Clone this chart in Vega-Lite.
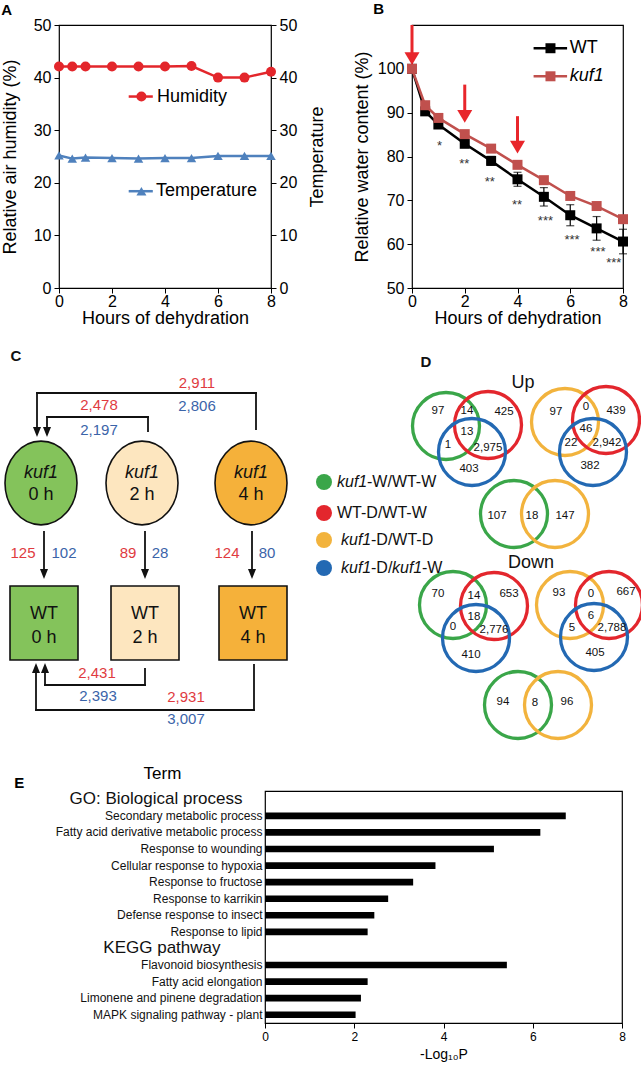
{
  "$schema": "https://vega.github.io/schema/vega-lite/v6.json",
  "padding": {"left": 0, "top": 0, "right": 0, "bottom": 0},
  "background": "white",
  "config": {
    "font": "Liberation Sans",
    "axis": {"grid": false, "domainColor": "#000", "tickColor": "#000", "labelColor": "#000", "titleColor": "#000", "titleFontWeight": "normal", "labelFont": "Liberation Sans", "titleFont": "Liberation Sans"},
    "text": {"font": "Liberation Sans"},
    "title": {"font": "Liberation Sans", "color": "#000"}
  },
  "datasets": {
    "humid": [{"h":0,"v":42.1},{"h":0.5,"v":42.1},{"h":1,"v":42.1},{"h":2,"v":42.1},{"h":3,"v":42.1},{"h":4,"v":42.1},{"h":5,"v":42.2},{"h":6,"v":40.0},{"h":7,"v":40.0},{"h":8,"v":41.1}],
    "temp": [{"h":0,"v":25.2},{"h":0.5,"v":24.6},{"h":1,"v":24.8},{"h":2,"v":24.7},{"h":3,"v":24.6},{"h":4,"v":24.7},{"h":5,"v":24.7},{"h":6,"v":25.1},{"h":7,"v":25.1},{"h":8,"v":25.1}],
    "legA": [{"kind":"line","h":2.63,"h2":3.54,"v":36.4,"s":"Humidity"},{"kind":"pt","h":3.11,"v":36.4,"s":"Humidity"},{"kind":"txt","h":3.7,"v":36.4,"s":"Humidity"},{"kind":"line","h":2.63,"h2":3.54,"v":18.4,"s":"Temperature"},{"kind":"pt","h":3.11,"v":18.4,"s":"Temperature"},{"kind":"txt","h":3.66,"v":18.4,"s":"Temperature"}],
    "wt": [{"h":0,"v":100,"e":0},{"h":0.5,"v":90.3,"e":0.4},{"h":1,"v":87.3,"e":0.5},{"h":2,"v":82.9,"e":0.7},{"h":3,"v":79.0,"e":1.0},{"h":4,"v":74.8,"e":1.6},{"h":5,"v":70.8,"e":2.1},{"h":6,"v":66.6,"e":2.4},{"h":7,"v":63.6,"e":2.7},{"h":8,"v":60.6,"e":2.8}],
    "kuf": [{"h":0,"v":100},{"h":0.5,"v":91.7},{"h":1,"v":88.8},{"h":2,"v":85.1},{"h":3,"v":81.8},{"h":4,"v":78.1},{"h":5,"v":74.6},{"h":6,"v":71.0},{"h":7,"v":68.7},{"h":8,"v":65.7}],
    "sig": [{"h":1.04,"v":83.1,"s":"*"},{"h":1.98,"v":79.0,"s":"**"},{"h":2.95,"v":74.8,"s":"**"},{"h":3.98,"v":69.7,"s":"**"},{"h":5.06,"v":65.9,"s":"***"},{"h":6.07,"v":61.6,"s":"***"},{"h":7.05,"v":58.9,"s":"***"},{"h":7.65,"v":56.3,"s":"***"}],
    "arrows": [{"h":0,"v":110,"v2":102.5},{"h":2,"v":96.4,"v2":89.5},{"h":4,"v":89.2,"v2":82.5}],
    "tips": [{"h":0,"v":100.9},{"h":2,"v":87.7},{"h":4,"v":80.7}],
    "legB": [{"kind":"line","h":4.61,"h2":5.88,"v":104.7,"s":"WT"},{"kind":"pt","h":5.25,"v":104.7,"s":"WT"},{"kind":"txt","h":5.98,"v":104.7,"s":"WT"},{"kind":"line","h":4.61,"h2":5.88,"v":98.3,"s":"kuf1"},{"kind":"pt","h":5.25,"v":98.3,"s":"kuf1"},{"kind":"txt","h":5.98,"v":98.3,"s":"kuf1"}],
    "segs": [
      {"x":252,"y":429,"x2":252,"y2":393},{"x":252,"y":393,"x2":33,"y2":393},{"x":33,"y":393,"x2":33,"y2":430},
      {"x":144,"y":431,"x2":144,"y2":417},{"x":144,"y":417,"x2":43,"y2":417},{"x":43,"y":417,"x2":43,"y2":430},
      {"x":40,"y":532,"x2":40,"y2":572},{"x":141,"y":532,"x2":141,"y2":572},{"x":248,"y":532,"x2":248,"y2":572},
      {"x":141,"y":669,"x2":141,"y2":685},{"x":141,"y":685,"x2":41,"y2":685},{"x":41,"y":685,"x2":41,"y2":670},
      {"x":250,"y":665,"x2":250,"y2":710},{"x":250,"y":710,"x2":32,"y2":710},{"x":32,"y":710,"x2":32,"y2":670}
    ],
    "heads": [{"x":33,"y":437,"dir":"down"},{"x":43,"y":437,"dir":"down"},{"x":40,"y":579,"dir":"down"},{"x":141,"y":579,"dir":"down"},{"x":248,"y":579,"dir":"down"},{"x":41,"y":663,"dir":"up"},{"x":32,"y":663,"dir":"up"}],
    "ellipses": [{"x":37,"y":483,"cat":"0 h"},{"x":138,"y":483,"cat":"2 h"},{"x":247,"y":483,"cat":"4 h"}],
    "boxes": [{"x":6,"y":586,"x2":74,"y2":660,"cat":"0 h"},{"x":107,"y":586,"x2":175,"y2":660,"cat":"2 h"},{"x":215,"y":586,"x2":283,"y2":660,"cat":"4 h"}],
    "venn": [
      {"x":442,"y":426,"cat":"kuf1-W/WT-W"},{"x":484,"y":425,"cat":"WT-D/WT-W"},{"x":468,"y":452,"cat":"kuf1-D/kuf1-W"},
      {"x":561,"y":422,"cat":"kuf1-D/WT-D"},{"x":602,"y":420,"cat":"WT-D/WT-W"},{"x":589,"y":452,"cat":"kuf1-D/kuf1-W"},
      {"x":510,"y":514,"cat":"kuf1-W/WT-W"},{"x":551,"y":514,"cat":"kuf1-D/WT-D"},
      {"x":449,"y":605,"cat":"kuf1-W/WT-W"},{"x":490,"y":606,"cat":"WT-D/WT-W"},{"x":472,"y":638,"cat":"kuf1-D/kuf1-W"},
      {"x":566,"y":605,"cat":"kuf1-D/WT-D"},{"x":605,"y":605,"cat":"WT-D/WT-W"},{"x":590,"y":637,"cat":"kuf1-D/kuf1-W"},
      {"x":514,"y":705,"cat":"kuf1-W/WT-W"},{"x":554,"y":705,"cat":"kuf1-D/WT-D"}
    ],
    "dots": [{"x":320,"y":482,"cat":"kuf1-W/WT-W"},{"x":320,"y":513,"cat":"WT-D/WT-W"},{"x":320,"y":540,"cat":"kuf1-D/WT-D"},{"x":320,"y":568,"cat":"kuf1-D/kuf1-W"}],
    "labels": [
      {"role":"letter","t":"C","x":12,"y":356,"cat":"plain"},
      {"role":"letter","t":"D","x":422,"y":362,"cat":"plain"},
      {"role":"cnum","t":"2,911","x":193,"y":383,"cat":"up"},
      {"role":"cnum","t":"2,806","x":193,"y":406,"cat":"down"},
      {"role":"cnum","t":"2,478","x":95,"y":405,"cat":"up"},
      {"role":"cnum","t":"2,197","x":95,"y":430,"cat":"down"},
      {"role":"cnum","t":"125","x":19,"y":553,"cat":"up"},
      {"role":"cnum","t":"102","x":60,"y":553,"cat":"down"},
      {"role":"cnum","t":"89","x":124,"y":553,"cat":"up"},
      {"role":"cnum","t":"28","x":156,"y":553,"cat":"down"},
      {"role":"cnum","t":"124","x":223,"y":553,"cat":"up"},
      {"role":"cnum","t":"80","x":263,"y":553,"cat":"down"},
      {"role":"cnum","t":"2,431","x":93,"y":673,"cat":"up"},
      {"role":"cnum","t":"2,393","x":94,"y":696,"cat":"down"},
      {"role":"cnum","t":"2,931","x":182,"y":697,"cat":"up"},
      {"role":"cnum","t":"3,007","x":182,"y":719,"cat":"down"},
      {"role":"nodeit","t":"kuf1","x":37,"y":473,"cat":"plain"},
      {"role":"nodeit","t":"kuf1","x":138,"y":473,"cat":"plain"},
      {"role":"nodeit","t":"kuf1","x":247,"y":473,"cat":"plain"},
      {"role":"node","t":"0 h","x":37,"y":495,"cat":"plain"},
      {"role":"node","t":"2 h","x":138,"y":495,"cat":"plain"},
      {"role":"node","t":"4 h","x":247,"y":495,"cat":"plain"},
      {"role":"node","t":"WT","x":40,"y":614,"cat":"plain"},
      {"role":"node","t":"WT","x":141,"y":614,"cat":"plain"},
      {"role":"node","t":"WT","x":249,"y":614,"cat":"plain"},
      {"role":"node","t":"0 h","x":40,"y":638,"cat":"plain"},
      {"role":"node","t":"2 h","x":141,"y":638,"cat":"plain"},
      {"role":"node","t":"4 h","x":249,"y":638,"cat":"plain"},
      {"role":"vhead","t":"Up","x":519,"y":383,"cat":"plain"},
      {"role":"vhead","t":"Down","x":527,"y":563,"cat":"plain"},
      {"role":"vnum","t":"97","x":434,"y":411,"cat":"plain"},
      {"role":"vnum","t":"14","x":463,"y":411,"cat":"plain"},
      {"role":"vnum","t":"425","x":500,"y":412,"cat":"plain"},
      {"role":"vnum","t":"13","x":463,"y":432,"cat":"plain"},
      {"role":"vnum","t":"1","x":444,"y":445,"cat":"plain"},
      {"role":"vnum","t":"2,975","x":484,"y":448,"cat":"plain"},
      {"role":"vnum","t":"403","x":465,"y":469,"cat":"plain"},
      {"role":"vnum","t":"97","x":552,"y":412,"cat":"plain"},
      {"role":"vnum","t":"0","x":582,"y":407,"cat":"plain"},
      {"role":"vnum","t":"439","x":612,"y":411,"cat":"plain"},
      {"role":"vnum","t":"46","x":582,"y":429,"cat":"plain"},
      {"role":"vnum","t":"22","x":567,"y":443,"cat":"plain"},
      {"role":"vnum","t":"2,942","x":603,"y":443,"cat":"plain"},
      {"role":"vnum","t":"382","x":586,"y":466,"cat":"plain"},
      {"role":"vnum","t":"107","x":493,"y":516,"cat":"plain"},
      {"role":"vnum","t":"18","x":528,"y":516,"cat":"plain"},
      {"role":"vnum","t":"147","x":561,"y":516,"cat":"plain"},
      {"role":"vnum","t":"70","x":434,"y":594,"cat":"plain"},
      {"role":"vnum","t":"14","x":470,"y":596,"cat":"plain"},
      {"role":"vnum","t":"653","x":505,"y":594,"cat":"plain"},
      {"role":"vnum","t":"18","x":470,"y":617,"cat":"plain"},
      {"role":"vnum","t":"0","x":449,"y":627,"cat":"plain"},
      {"role":"vnum","t":"2,776","x":490,"y":630,"cat":"plain"},
      {"role":"vnum","t":"410","x":467,"y":655,"cat":"plain"},
      {"role":"vnum","t":"93","x":555,"y":593,"cat":"plain"},
      {"role":"vnum","t":"0","x":587,"y":594,"cat":"plain"},
      {"role":"vnum","t":"667","x":622,"y":592,"cat":"plain"},
      {"role":"vnum","t":"6","x":587,"y":616,"cat":"plain"},
      {"role":"vnum","t":"5","x":568,"y":628,"cat":"plain"},
      {"role":"vnum","t":"2,788","x":608,"y":628,"cat":"plain"},
      {"role":"vnum","t":"405","x":591,"y":653,"cat":"plain"},
      {"role":"vnum","t":"94","x":499,"y":702,"cat":"plain"},
      {"role":"vnum","t":"8","x":531,"y":703,"cat":"plain"},
      {"role":"vnum","t":"96","x":563,"y":702,"cat":"plain"},
      {"role":"legit","t":"kuf1","x":333,"y":482,"cat":"plain"},
      {"role":"leg","t":"-W/WT-W","x":363,"y":482,"cat":"plain"},
      {"role":"leg","t":"WT-D/WT-W","x":333,"y":513,"cat":"plain"},
      {"role":"legit","t":"kuf1","x":337,"y":540,"cat":"plain"},
      {"role":"leg","t":"-D/WT-D","x":367,"y":540,"cat":"plain"},
      {"role":"legit","t":"kuf1","x":337,"y":568,"cat":"plain"},
      {"role":"leg","t":"-D/","x":367,"y":568,"cat":"plain"},
      {"role":"legit","t":"kuf1","x":388,"y":568,"cat":"plain"},
      {"role":"leg","t":"-W","x":418,"y":568,"cat":"plain"}
    ],
    "go": [
      {"term":"Secondary metabolic process","p":6.74},
      {"term":"Fatty acid derivative metabolic process","p":6.17},
      {"term":"Response to wounding","p":5.13},
      {"term":"Cellular response to hypoxia","p":3.82},
      {"term":"Response to fructose","p":3.32},
      {"term":"Response to karrikin","p":2.76},
      {"term":"Defense response to insect","p":2.45},
      {"term":"Response to lipid","p":2.30},
      {"term":"Flavonoid biosynthesis","p":5.42},
      {"term":"Fatty acid elongation","p":2.30},
      {"term":"Limonene and pinene degradation","p":2.15},
      {"term":"MAPK signaling pathway - plant","p":2.03}
    ],
    "letterE": [{"t":"E","p":-5.62,"term":"GO: Biological process"}]
  },
  "columns": 1,
  "spacing": 10,
  "resolve": {"scale": {"color": "independent", "shape": "independent"}},
  "concat": [
    {
      "spacing": 24,
      "resolve": {"scale": {"color": "independent", "shape": "independent"}},
      "hconcat": [
        {
          "width": 212, "height": 263,
          "title": {"text": "A", "anchor": "start", "frame": "bounds", "fontSize": 15, "fontWeight": "bold", "offset": -1},
          "view": {"stroke": "#000", "strokeWidth": 1.2},
          "encoding": {
            "x": {"field": "h", "type": "quantitative", "scale": {"domain": [0, 8], "nice": false}, "axis": {"values": [0,2,4,6,8], "title": "Hours of dehydration", "labelFontSize": 16, "titleFontSize": 18, "tickSize": 5, "labelPadding": 0, "titlePadding": 0, "domain": false, "labelFlush": false}}
          },
          "layer": [
            {
              "encoding": {"y": {"field": "v", "type": "quantitative", "scale": {"domain": [0, 50], "nice": false}, "axis": {"orient": "left", "values": [0,10,20,30,40,50], "title": "Relative air humidity (%)", "labelFontSize": 16, "titleFontSize": 18, "tickSize": 5, "labelPadding": 3, "titlePadding": 14, "domain": false}}},
              "layer": [
                {"data": {"name": "humid"}, "mark": {"type": "line", "color": "#e3262b", "strokeWidth": 2.5}},
                {"data": {"name": "humid"}, "mark": {"type": "point", "shape": "circle", "filled": true, "opacity": 1, "size": 100, "color": "#e3262b"}},
                {"data": {"name": "legA"}, "transform": [{"filter": "datum.kind == 'line'"}], "mark": {"type": "rule", "strokeWidth": 2.5}, "encoding": {"x2": {"field": "h2"}, "color": {"field": "s", "type": "nominal", "scale": {"domain": ["Humidity", "Temperature"], "range": ["#e3262b", "#4f81bd"]}, "legend": null}}},
                {"data": {"name": "legA"}, "transform": [{"filter": "datum.kind == 'pt'"}], "mark": {"type": "point", "filled": true, "opacity": 1, "size": 100}, "encoding": {"color": {"field": "s", "type": "nominal", "scale": {"domain": ["Humidity", "Temperature"], "range": ["#e3262b", "#4f81bd"]}, "legend": null}, "shape": {"field": "s", "type": "nominal", "scale": {"domain": ["Humidity", "Temperature"], "range": ["circle", "triangle-up"]}, "legend": null}}},
                {"data": {"name": "legA"}, "transform": [{"filter": "datum.kind == 'txt'"}], "mark": {"type": "text", "align": "left", "baseline": "middle", "fontSize": 18, "color": "#000"}, "encoding": {"text": {"field": "s"}}}
              ]
            },
            {
              "encoding": {"y": {"field": "v", "type": "quantitative", "scale": {"domain": [0, 50], "nice": false}, "axis": {"orient": "right", "values": [0,10,20,30,40,50], "title": "Temperature", "labelFontSize": 16, "titleFontSize": 18, "tickSize": 5, "labelPadding": 3, "titlePadding": 12, "titleAngle": 270, "titleBaseline": "top", "domain": false}}},
              "layer": [
                {"data": {"name": "temp"}, "mark": {"type": "line", "color": "#4f81bd", "strokeWidth": 2.5}},
                {"data": {"name": "temp"}, "mark": {"type": "point", "shape": "triangle-up", "filled": true, "opacity": 1, "size": 90, "color": "#4f81bd"}}
              ]
            }
          ],
          "resolve": {"scale": {"y": "independent"}}
        },
        {
          "width": 211, "height": 263,
          "title": {"text": "B", "anchor": "start", "frame": "bounds", "fontSize": 15, "fontWeight": "bold", "offset": 7, "dx": 20},
          "view": {"stroke": "#000", "strokeWidth": 1.2},
          "encoding": {
            "x": {"field": "h", "type": "quantitative", "scale": {"domain": [0, 8], "nice": false}, "axis": {"values": [0,2,4,6,8], "title": "Hours of dehydration", "labelFontSize": 16, "titleFontSize": 18, "tickSize": 5, "labelPadding": 0, "titlePadding": 0, "domain": false, "labelFlush": false}},
            "y": {"field": "v", "type": "quantitative", "scale": {"domain": [50, 110], "nice": false, "zero": false}, "axis": {"values": [50,60,70,80,90,100], "title": "Relative water content (%)", "labelFontSize": 16, "titleFontSize": 18, "tickSize": 5, "labelPadding": 3, "titlePadding": 6, "domain": false}}
          },
          "layer": [
            {"data": {"name": "wt"}, "mark": {"type": "errorbar", "color": "#000", "thickness": 1.2, "ticks": {"size": 8, "thickness": 1.2}}, "encoding": {"yError": {"field": "e"}}},
            {"data": {"name": "wt"}, "mark": {"type": "line", "color": "#000", "strokeWidth": 2.5}},
            {"data": {"name": "wt"}, "mark": {"type": "point", "shape": "square", "filled": true, "opacity": 1, "color": "#000", "size": 100}},
            {"data": {"name": "kuf"}, "mark": {"type": "line", "color": "#c0504d", "strokeWidth": 2.5}},
            {"data": {"name": "kuf"}, "mark": {"type": "point", "shape": "square", "filled": true, "opacity": 1, "color": "#c0504d", "size": 100}},
            {"data": {"name": "sig"}, "mark": {"type": "text", "fontSize": 13, "color": "#333", "baseline": "alphabetic", "dy": 7}, "encoding": {"text": {"field": "s"}}},
            {"data": {"name": "arrows"}, "mark": {"type": "rule", "color": "#e8262b", "strokeWidth": 3}, "encoding": {"y2": {"field": "v2"}}},
            {"data": {"name": "tips"}, "mark": {"type": "point", "shape": "M-1,-1.7L1,-1.7L0,0Z", "filled": true, "opacity": 1, "color": "#e8262b", "size": 225, "strokeWidth": 0}},
            {"data": {"name": "legB"}, "transform": [{"filter": "datum.kind == 'line'"}], "mark": {"type": "rule", "strokeWidth": 2.5}, "encoding": {"x2": {"field": "h2"}, "color": {"field": "s", "type": "nominal", "scale": {"domain": ["WT", "kuf1"], "range": ["#000000", "#c0504d"]}, "legend": null}}},
            {"data": {"name": "legB"}, "transform": [{"filter": "datum.kind == 'pt'"}], "mark": {"type": "point", "shape": "square", "filled": true, "opacity": 1, "size": 100}, "encoding": {"color": {"field": "s", "type": "nominal", "scale": {"domain": ["WT", "kuf1"], "range": ["#000000", "#c0504d"]}, "legend": null}}},
            {"data": {"name": "legB"}, "transform": [{"filter": "datum.kind == 'txt' && datum.s == 'WT'"}], "mark": {"type": "text", "align": "left", "baseline": "middle", "fontSize": 18, "color": "#000"}, "encoding": {"text": {"field": "s"}}},
            {"data": {"name": "legB"}, "transform": [{"filter": "datum.kind == 'txt' && datum.s == 'kuf1'"}], "mark": {"type": "text", "align": "left", "baseline": "middle", "fontSize": 18, "fontStyle": "italic", "color": "#000"}, "encoding": {"text": {"field": "s"}}}
          ]
        }
      ]
    },
    {
      "width": 582, "height": 415,
      "view": {"stroke": null},
      "encoding": {
        "x": {"field": "x", "type": "quantitative", "scale": {"domain": [55, 637], "nice": false, "zero": false}, "axis": null},
        "y": {"field": "y", "type": "quantitative", "scale": {"domain": [338, 753], "nice": false, "zero": false, "reverse": true}, "axis": null}
      },
      "layer": [
        {"data": {"name": "segs"}, "mark": {"type": "rule", "color": "#111", "strokeWidth": 1.8, "strokeCap": "square"}, "encoding": {"x2": {"field": "x2"}, "y2": {"field": "y2"}}},
        {"data": {"name": "heads"}, "mark": {"type": "point", "filled": true, "opacity": 1, "color": "#111", "size": 64, "strokeWidth": 0}, "encoding": {"shape": {"field": "dir", "type": "nominal", "scale": {"domain": ["down", "up"], "range": ["M-1,-2.5L1,-2.5L0,0Z", "M-1,2.5L1,2.5L0,0Z"]}, "legend": null}}},
        {"data": {"name": "ellipses"}, "mark": {"type": "point", "shape": "M1,0C1,0.642 0.552,1.163 0,1.163C-0.552,1.163 -1,0.642 -1,0C-1,-0.642 -0.552,-1.163 0,-1.163C0.552,-1.163 1,-0.642 1,0Z", "filled": true, "opacity": 1, "stroke": "#111", "strokeWidth": 1.6, "size": 5184}, "encoding": {"color": {"field": "cat", "type": "nominal", "scale": {"domain": ["kuf1-W/WT-W","WT-D/WT-W","kuf1-D/WT-D","kuf1-D/kuf1-W","up","down","0 h","2 h","4 h","plain"], "range": ["#3aa649","#e3262d","#f2b33d","#2369b3","#e03b3f","#3b64a9","#84c35b","#fde6bf","#f5b13a","#111111"]}, "legend": null}}},
        {"data": {"name": "boxes"}, "mark": {"type": "rect", "stroke": "#111", "strokeWidth": 1.6}, "encoding": {"x2": {"field": "x2"}, "y2": {"field": "y2"}, "color": {"field": "cat", "type": "nominal", "scale": {"domain": ["kuf1-W/WT-W","WT-D/WT-W","kuf1-D/WT-D","kuf1-D/kuf1-W","up","down","0 h","2 h","4 h","plain"], "range": ["#3aa649","#e3262d","#f2b33d","#2369b3","#e03b3f","#3b64a9","#84c35b","#fde6bf","#f5b13a","#111111"]}, "legend": null}}},
        {"data": {"name": "venn"}, "mark": {"type": "point", "shape": "circle", "filled": false, "opacity": 1, "strokeWidth": 3.3, "size": 4489}, "encoding": {"color": {"field": "cat", "type": "nominal", "scale": {"domain": ["kuf1-W/WT-W","WT-D/WT-W","kuf1-D/WT-D","kuf1-D/kuf1-W","up","down","0 h","2 h","4 h","plain"], "range": ["#3aa649","#e3262d","#f2b33d","#2369b3","#e03b3f","#3b64a9","#84c35b","#fde6bf","#f5b13a","#111111"]}, "legend": null}}},
        {"data": {"name": "dots"}, "mark": {"type": "point", "shape": "circle", "filled": true, "opacity": 1, "size": 256}, "encoding": {"color": {"field": "cat", "type": "nominal", "scale": {"domain": ["kuf1-W/WT-W","WT-D/WT-W","kuf1-D/WT-D","kuf1-D/kuf1-W","up","down","0 h","2 h","4 h","plain"], "range": ["#3aa649","#e3262d","#f2b33d","#2369b3","#e03b3f","#3b64a9","#84c35b","#fde6bf","#f5b13a","#111111"]}, "legend": null}}},
        {"data": {"name": "labels"}, "transform": [{"filter": "datum.role == 'letter'"}], "mark": {"type": "text", "fontSize": 15, "fontWeight": "bold"}, "encoding": {"text": {"field": "t"}, "color": {"field": "cat", "type": "nominal", "scale": {"domain": ["kuf1-W/WT-W","WT-D/WT-W","kuf1-D/WT-D","kuf1-D/kuf1-W","up","down","0 h","2 h","4 h","plain"], "range": ["#3aa649","#e3262d","#f2b33d","#2369b3","#e03b3f","#3b64a9","#84c35b","#fde6bf","#f5b13a","#111111"]}, "legend": null}}},
        {"data": {"name": "labels"}, "transform": [{"filter": "datum.role == 'cnum'"}], "mark": {"type": "text", "fontSize": 15}, "encoding": {"text": {"field": "t"}, "color": {"field": "cat", "type": "nominal", "scale": {"domain": ["kuf1-W/WT-W","WT-D/WT-W","kuf1-D/WT-D","kuf1-D/kuf1-W","up","down","0 h","2 h","4 h","plain"], "range": ["#3aa649","#e3262d","#f2b33d","#2369b3","#e03b3f","#3b64a9","#84c35b","#fde6bf","#f5b13a","#111111"]}, "legend": null}}},
        {"data": {"name": "labels"}, "transform": [{"filter": "datum.role == 'node'"}], "mark": {"type": "text", "fontSize": 18}, "encoding": {"text": {"field": "t"}, "color": {"field": "cat", "type": "nominal", "scale": {"domain": ["kuf1-W/WT-W","WT-D/WT-W","kuf1-D/WT-D","kuf1-D/kuf1-W","up","down","0 h","2 h","4 h","plain"], "range": ["#3aa649","#e3262d","#f2b33d","#2369b3","#e03b3f","#3b64a9","#84c35b","#fde6bf","#f5b13a","#111111"]}, "legend": null}}},
        {"data": {"name": "labels"}, "transform": [{"filter": "datum.role == 'nodeit'"}], "mark": {"type": "text", "fontSize": 18, "fontStyle": "italic"}, "encoding": {"text": {"field": "t"}, "color": {"field": "cat", "type": "nominal", "scale": {"domain": ["kuf1-W/WT-W","WT-D/WT-W","kuf1-D/WT-D","kuf1-D/kuf1-W","up","down","0 h","2 h","4 h","plain"], "range": ["#3aa649","#e3262d","#f2b33d","#2369b3","#e03b3f","#3b64a9","#84c35b","#fde6bf","#f5b13a","#111111"]}, "legend": null}}},
        {"data": {"name": "labels"}, "transform": [{"filter": "datum.role == 'vhead'"}], "mark": {"type": "text", "fontSize": 18}, "encoding": {"text": {"field": "t"}, "color": {"field": "cat", "type": "nominal", "scale": {"domain": ["kuf1-W/WT-W","WT-D/WT-W","kuf1-D/WT-D","kuf1-D/kuf1-W","up","down","0 h","2 h","4 h","plain"], "range": ["#3aa649","#e3262d","#f2b33d","#2369b3","#e03b3f","#3b64a9","#84c35b","#fde6bf","#f5b13a","#111111"]}, "legend": null}}},
        {"data": {"name": "labels"}, "transform": [{"filter": "datum.role == 'vnum'"}], "mark": {"type": "text", "fontSize": 11.5}, "encoding": {"text": {"field": "t"}, "color": {"field": "cat", "type": "nominal", "scale": {"domain": ["kuf1-W/WT-W","WT-D/WT-W","kuf1-D/WT-D","kuf1-D/kuf1-W","up","down","0 h","2 h","4 h","plain"], "range": ["#3aa649","#e3262d","#f2b33d","#2369b3","#e03b3f","#3b64a9","#84c35b","#fde6bf","#f5b13a","#111111"]}, "legend": null}}},
        {"data": {"name": "labels"}, "transform": [{"filter": "datum.role == 'leg'"}], "mark": {"type": "text", "fontSize": 16, "align": "left"}, "encoding": {"text": {"field": "t"}, "color": {"field": "cat", "type": "nominal", "scale": {"domain": ["kuf1-W/WT-W","WT-D/WT-W","kuf1-D/WT-D","kuf1-D/kuf1-W","up","down","0 h","2 h","4 h","plain"], "range": ["#3aa649","#e3262d","#f2b33d","#2369b3","#e03b3f","#3b64a9","#84c35b","#fde6bf","#f5b13a","#111111"]}, "legend": null}}},
        {"data": {"name": "labels"}, "transform": [{"filter": "datum.role == 'legit'"}], "mark": {"type": "text", "fontSize": 16, "align": "left", "fontStyle": "italic"}, "encoding": {"text": {"field": "t"}, "color": {"field": "cat", "type": "nominal", "scale": {"domain": ["kuf1-W/WT-W","WT-D/WT-W","kuf1-D/WT-D","kuf1-D/kuf1-W","up","down","0 h","2 h","4 h","plain"], "range": ["#3aa649","#e3262d","#f2b33d","#2369b3","#e03b3f","#3b64a9","#84c35b","#fde6bf","#f5b13a","#111111"]}, "legend": null}}}
      ]
    },
    {
      "bounds": "flush",
      "spacing": 0,
      "hconcat": [
        {"width": 206, "height": 232, "view": {"stroke": null}, "data": {"values": []}, "mark": {"type": "point"}},
        {
          "width": 357, "height": 232,
          "view": {"stroke": "#000", "strokeWidth": 1.2},
          "data": {"name": "go"},
          "encoding": {
            "y": {"field": "term", "type": "nominal", "sort": null,
              "scale": {"domain": ["GO: Biological process","Secondary metabolic process","Fatty acid derivative metabolic process","Response to wounding","Cellular response to hypoxia","Response to fructose","Response to karrikin","Defense response to insect","Response to lipid","KEGG pathway","Flavonoid biosynthesis","Fatty acid elongation","Limonene and pinene degradation","MAPK signaling pathway - plant"], "paddingInner": 0.6, "paddingOuter": 0.3},
              "axis": {"title": "Term", "titleAngle": 0, "titleX": -103, "titleY": -18, "titleAlign": "center", "titleBaseline": "middle", "titleFontSize": 17, "ticks": false, "domain": false, "labelLimit": 400, "labelOverlap": false, "labelColor": "#111",
                "labelFontSize": {"condition": {"test": "datum.value == 'GO: Biological process' || datum.value == 'KEGG pathway'", "value": 17}, "value": 12},
                "labelPadding": {"condition": [{"test": "datum.value == 'GO: Biological process'", "value": 23}, {"test": "datum.value == 'KEGG pathway'", "value": 45}], "value": 3}}
            },
            "x": {"field": "p", "type": "quantitative", "scale": {"domain": [0, 8], "nice": false}, "axis": {"values": [0,2,4,6,8], "title": "-Log₁₀P", "labelFontSize": 12, "titleFontSize": 14, "tickSize": 5, "labelPadding": 3, "titlePadding": 5, "domain": false, "labelFlush": false}}
          },
          "layer": [
            {"mark": {"type": "bar", "color": "#000"}},
            {"data": {"name": "letterE"}, "mark": {"type": "text", "fontSize": 15, "fontWeight": "bold", "align": "left", "baseline": "middle", "dy": -16, "color": "#000"}, "encoding": {"text": {"field": "t"}}}
          ]
        }
      ]
    }
  ]
}
